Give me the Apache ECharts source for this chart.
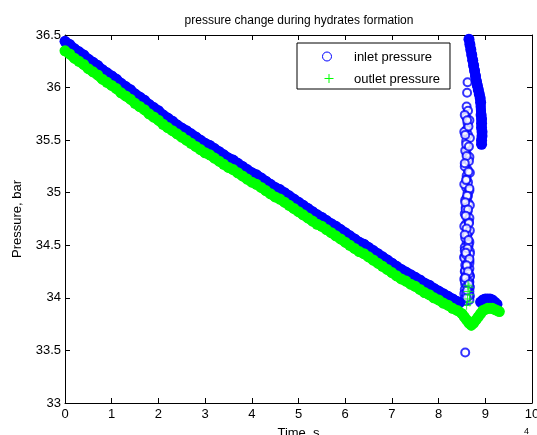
<!DOCTYPE html>
<html><head><meta charset="utf-8">
<script src="https://cdn.jsdelivr.net/npm/echarts/dist/echarts.min.js"></script>
<style>html,body{margin:0;padding:0;background:#fff}#c{width:537px;height:435px}</style>
</head><body><div id="c"></div>
<script>
// ---- data (time in units of 10^4 s, pressure in bar) ----
const xTicks = [0,1,2,3,4,5,6,7,8,9,10];
const yTicks = [33,33.5,34,34.5,35,35.5,36,36.5];

// main declining trend, inlet (blue) — band centres
const inletTrendTime = [0,0.1,0.2,0.3,0.4,0.5,0.6,0.7,0.8,0.9,1,1.1,1.2,1.3,1.4,1.5,1.6,1.7,1.8,1.9,2,2.1,2.2,2.3,2.4,2.5,2.6,2.7,2.8,2.9,3,3.1,3.2,3.3,3.4,3.5,3.6,3.7,3.8,3.9,4,4.1,4.2,4.3,4.4,4.5,4.6,4.7,4.8,4.9,5,5.1,5.2,5.3,5.4,5.5,5.6,5.7,5.8,5.9,6,6.1,6.2,6.3,6.4,6.5,6.6,6.7,6.8,6.9,7,7.1,7.2,7.3,7.4,7.5,7.6,7.7,7.8,7.9,8,8.1,8.2,8.3,8.4,8.45];
const inletTrend = [36.44,36.41,36.37,36.34,36.31,36.27,36.24,36.21,36.17,36.14,36.11,36.08,36.04,36.01,35.98,35.94,35.91,35.88,35.84,35.81,35.78,35.74,35.71,35.68,35.645,35.615,35.59,35.56,35.53,35.50,35.47,35.45,35.42,35.39,35.36,35.33,35.31,35.28,35.25,35.22,35.19,35.17,35.14,35.11,35.08,35.05,35.03,35.00,34.97,34.94,34.91,34.88,34.85,34.82,34.79,34.765,34.735,34.705,34.68,34.65,34.62,34.59,34.56,34.53,34.51,34.48,34.45,34.42,34.39,34.36,34.33,34.30,34.27,34.245,34.22,34.195,34.17,34.14,34.12,34.09,34.065,34.04,34.015,33.99,33.965,33.955];

// inlet recovery hump after the jump
const inletHumpTime = [8.9,8.95,9,9.05,9.1,9.15,9.2,9.25];
const inletHump = [33.96,33.98,33.99,33.99,33.99,33.98,33.96,33.94];

// dense relaxation curve after the pressure jump (inlet)
const inletCurveTime = [8.65,8.67,8.69,8.71,8.73,8.75,8.77,8.79,8.81,8.83,8.85,8.87,8.89,8.9,8.91,8.92,8.92,8.92,8.93,8.93,8.92,8.92];
const inletCurve = [36.46,36.41,36.36,36.31,36.26,36.21,36.16,36.11,36.06,36.02,35.98,35.94,35.90,35.86,35.74,35.70,35.66,35.62,35.58,35.54,35.50,35.46];

// scattered inlet points in the jump column
const inletSpikeTime = [8.62,8.61,8.60,8.63,8.59,8.62,8.60,8.63,8.59,8.62,8.60,8.64,8.58,8.62,8.60,8.63,8.59,8.62,8.60,8.64,8.58,8.62,8.60,8.63,8.58,8.61,8.64,8.59,8.62,8.60,8.64,8.58,8.62,8.60,8.65,8.59,8.62,8.60,8.64,8.58,8.62,8.60,8.65,8.59,8.62,8.60,8.64,8.58,8.62,8.66,8.57,8.61,8.57,8.90,8.91,
  8.56,8.66,8.55,8.67,8.57,8.66,8.56,8.67,8.55,8.66,8.57,8.67,8.56,8.66,8.55,8.67,8.57,8.66,8.56,8.67,8.55,8.66,8.57,8.66,8.56,8.67,8.55,8.66,8.57,8.67,8.56,8.66,8.55,8.67,8.57,8.66,8.56,8.67,8.55,8.66,8.57,8.67,8.56,8.66,
  8.64,8.59,8.65,8.60,8.63,8.58,8.65,8.61,8.64,8.59,8.63,8.60,8.65,8.58,8.64,8.61,8.63,8.59,8.65,8.60,
  8.61,8.57,8.65,8.60,8.56,8.64,8.59,8.66,8.61,8.57,8.63,8.58,8.65,8.60,8.56,8.64,8.62,8.58,8.66,8.60,8.63,8.57,8.65,8.61];
const inletSpike = [36.05,35.95,35.82,35.78,35.72,35.66,35.60,35.55,35.49,35.43,35.37,35.32,35.27,35.22,35.16,35.10,35.05,35.00,34.95,34.90,34.86,34.82,34.78,34.74,34.70,34.66,34.62,34.58,34.55,34.52,34.49,34.46,34.43,34.40,34.37,34.35,34.32,34.29,34.27,34.24,34.22,34.19,34.17,34.14,34.12,34.09,34.07,34.05,34.03,34.01,33.99,33.97,33.48,35.82,35.78,
  35.74,35.69,35.58,35.52,35.40,35.34,35.25,35.19,35.08,35.02,34.93,34.88,34.80,34.76,34.68,34.64,34.57,34.53,34.48,34.44,34.39,34.35,34.31,34.28,34.25,34.21,34.18,34.15,34.13,34.10,34.08,34.06,34.04,34.02,34.00,33.98,34.45,34.42,34.38,34.33,34.26,34.20,34.16,34.11,
  35.63,35.46,35.30,35.13,34.97,34.84,34.72,34.60,34.51,34.41,34.34,34.30,34.23,34.20,34.15,34.11,34.08,34.04,34.02,34.00,
  35.69,35.55,35.44,35.35,35.28,35.20,35.12,35.04,34.97,34.91,34.84,34.78,34.71,34.66,34.60,34.55,34.47,34.43,34.37,34.31,34.25,34.19,34.13,34.07];

// outlet (green) trend, dip and recovery
const outletTrendTime = [0,0.1,0.2,0.3,0.4,0.5,0.6,0.7,0.8,0.9,1,1.1,1.2,1.3,1.4,1.5,1.6,1.7,1.8,1.9,2,2.1,2.2,2.3,2.4,2.5,2.6,2.7,2.8,2.9,3,3.1,3.2,3.3,3.4,3.5,3.6,3.7,3.8,3.9,4,4.1,4.2,4.3,4.4,4.5,4.6,4.7,4.8,4.9,5,5.1,5.2,5.3,5.4,5.5,5.6,5.7,5.8,5.9,6,6.1,6.2,6.3,6.4,6.5,6.6,6.7,6.8,6.9,7,7.1,7.2,7.3,7.4,7.5,7.6,7.7,7.8,7.9,8,8.1,8.2,8.3,8.4,
  8.5,8.55,8.6,8.65,8.7,8.75,8.8,8.85,8.9,8.95,9,9.05,9.1,9.15,9.2,9.25,9.3];
const outletTrend = [36.35,36.32,36.28,36.25,36.22,36.18,36.15,36.12,36.08,36.05,36.02,35.99,35.95,35.92,35.89,35.85,35.82,35.79,35.75,35.72,35.69,35.65,35.62,35.59,35.56,35.53,35.50,35.47,35.44,35.41,35.38,35.36,35.33,35.30,35.27,35.24,35.22,35.19,35.16,35.13,35.10,35.08,35.05,35.02,34.99,34.96,34.94,34.91,34.88,34.85,34.82,34.79,34.76,34.73,34.70,34.68,34.65,34.62,34.59,34.56,34.53,34.50,34.47,34.44,34.42,34.39,34.36,34.33,34.30,34.27,34.24,34.21,34.18,34.16,34.13,34.11,34.08,34.05,34.03,34.00,33.98,33.95,33.93,33.90,33.88,
  33.85,33.82,33.79,33.76,33.74,33.76,33.79,33.82,33.85,33.88,33.89,33.90,33.90,33.90,33.89,33.88,33.87];

// individual outlet '+' marks around the jump
const outletMarkTime = [8.63,8.65,8.63,8.66,8.62,8.67,8.50,8.60,9.02,9.05,9.12,9.20];
const outletMark = [34.12,34.10,34.06,34.03,33.99,33.96,33.93,33.93,33.97,33.99,33.98,33.97];

// ---- chart ----
const zip = (xs, ys) => xs.map((x, i) => [x, ys[i]]);
const BLUE = '#0000ff', GREEN = '#00ff00';
const plusPath = 'path://M4,0H5V4H9V5H5V9H4V5H0V4H4Z';
const FONT = 'Liberation Sans, Arial, sans-serif';

const chart = echarts.init(document.getElementById('c'), null, {renderer: 'canvas'});
const tick = {show: true, inside: true, length: 5, lineStyle: {color: '#000', width: 1}};
const line = {show: true, onZero: false, lineStyle: {color: '#000', width: 1}};
const band = (name, color, xs, ys) => ({
  name, type: 'line', data: zip(xs, ys), silent: true,
  symbol: 'circle', symbolSize: 11, showSymbol: true, showAllSymbol: true,
  itemStyle: {color}, lineStyle: {color, width: 10, cap: 'round', join: 'round'}
});
chart.setOption({
  animation: false,
  backgroundColor: '#fff',
  title: {
    text: 'pressure change during hydrates formation',
    left: 294, top: 10, textAlign: 'center',
    textStyle: {fontFamily: FONT, fontSize: 12, fontWeight: 'normal', color: '#000'}
  },
  grid: {left: 65, right: 5, top: 35, bottom: 32, containLabel: false, outerBoundsMode: 'none'},
  legend: {
    orient: 'vertical', left: 297, top: 43,
    padding: [8, 10, 3, 8], itemGap: 9, itemWidth: 44, itemHeight: 9,
    borderColor: '#000', borderWidth: 1, backgroundColor: '#fff',
    textStyle: {fontFamily: FONT, fontSize: 13, color: '#000'},
    data: [
      {name: 'inlet pressure', icon: 'none'},
      {name: 'outlet pressure', icon: 'none'}
    ],
    selectedMode: false
  },
  xAxis: [
    {type: 'value', min: 0, max: 10, interval: 1, position: 'bottom',
      axisLine: line, axisTick: tick, splitLine: {show: false},
      axisLabel: {show: true, margin: 5, color: '#000', fontFamily: FONT, fontSize: 13,
        formatter: v => xTicks.includes(v) ? String(v) : ''},
      name: 'Time, s', nameLocation: 'middle', nameGap: 24,
      nameTextStyle: {fontFamily: FONT, fontSize: 13, color: '#000'}},
    {type: 'value', min: 0, max: 10, interval: 1, position: 'top',
      axisLine: line, axisTick: tick, splitLine: {show: false}, axisLabel: {show: false}}
  ],
  yAxis: [
    {type: 'value', min: 33, max: 36.5, interval: 0.5, position: 'left',
      axisLine: line, axisTick: tick, splitLine: {show: false},
      axisLabel: {show: true, margin: 4, color: '#000', fontFamily: FONT, fontSize: 13,
        formatter: v => yTicks.includes(v) ? String(v) : ''},
      name: 'Pressure, bar', nameLocation: 'middle', nameGap: 41,
      nameTextStyle: {fontFamily: FONT, fontSize: 13, color: '#000'}},
    {type: 'value', min: 33, max: 36.5, interval: 0.5, position: 'right',
      axisLine: line, axisTick: tick, splitLine: {show: false}, axisLabel: {show: false}}
  ],
  graphic: [
    {type: 'text', left: 524, top: 427, z: 100,
     style: {text: '4', fontFamily: FONT, fontSize: 9, fill: '#000'}},
    {type: 'circle', z: 100, shape: {cx: 327, cy: 56.5, r: 4.5},
     style: {fill: 'none', stroke: BLUE, lineWidth: 1}},
    {type: 'line', z: 100, shape: {x1: 324.5, y1: 78.5, x2: 333.5, y2: 78.5},
     style: {stroke: GREEN, lineWidth: 1}},
    {type: 'line', z: 100, shape: {x1: 329, y1: 74, x2: 329, y2: 83},
     style: {stroke: GREEN, lineWidth: 1}}
  ],
  series: [
    {name: 'inlet pressure', type: 'scatter', symbol: 'emptyCircle', symbolSize: 8,
     itemStyle: {color: BLUE, borderColor: BLUE, borderWidth: 1},
     data: zip(inletSpikeTime, inletSpike), silent: true},
    band('inlet pressure', BLUE, inletTrendTime, inletTrend),
    band('inlet pressure', BLUE, inletHumpTime, inletHump),
    band('inlet pressure', BLUE, inletCurveTime, inletCurve),
    {name: 'outlet pressure', type: 'scatter', symbol: plusPath, symbolSize: 9,
     itemStyle: {color: GREEN}, data: zip(outletMarkTime, outletMark), silent: true},
    band('outlet pressure', GREEN, outletTrendTime, outletTrend)
  ]
});
</script>
</body></html>
